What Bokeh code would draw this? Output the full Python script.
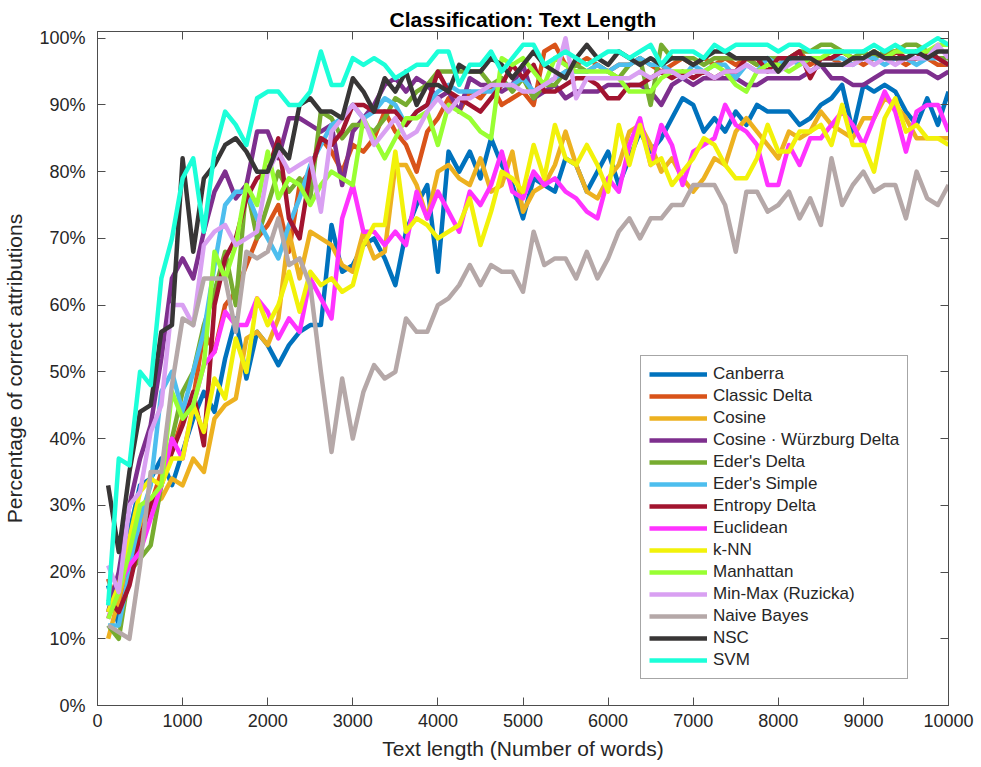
from bokeh.plotting import figure
from bokeh.models import LinearAxis, FixedTicker, Legend, LegendItem
from bokeh.embed import file_html
from bokeh.resources import INLINE

FONT = "Liberation Sans"

# text length sampled every 125 words
words = list(range(125, 10001, 125))

names = ["Canberra", "Classic Delta", "Cosine", "Cosine \u00b7 W\u00fcrzburg Delta", "Eder's Delta",
         "Eder's Simple", "Entropy Delta", "Euclidean", "k-NN", "Manhattan",
         "Min-Max (Ruzicka)", "Naive Bayes", "NSC", "SVM"]
colors = ["#0072BD", "#D95319", "#EDB120", "#7E2F8E", "#77AC30", "#4DBEEE", "#A2142F",
          "#FF33FF", "#F2F20A", "#99FF33", "#D9A0F2", "#B5A8A8", "#383636", "#1CFFD9"]

canberra = [18, 12, 26, 33, 34, 37, 33, 38, 43, 47,
            44, 52, 58, 49, 56, 54, 51, 54, 56, 57,
            57, 72, 65, 66, 69, 70, 67, 63, 71, 75,
            78, 65, 83, 80, 83, 79, 85, 81, 78, 73,
            79, 78, 77, 82, 81, 77, 80, 83, 78, 82,
            86, 83, 85, 88, 91, 90, 86, 88, 86, 89,
            87, 90, 89, 89, 89, 87, 88, 90, 91, 93,
            86, 93, 92, 93, 92, 89, 87, 91, 87, 92]
classic_delta = [19, 14, 22, 28, 30, 35, 38, 43, 46, 56,
                 53, 60, 62, 66, 70, 72, 75, 68, 78, 80,
                 85, 83, 80, 84, 83, 85, 89, 86, 84, 80,
                 86, 88, 91, 89, 92, 91, 93, 90, 91, 92,
                 90, 98, 99, 96, 96, 97, 96, 95, 96, 96,
                 97, 96, 95, 96, 97, 96, 97, 96, 97, 96,
                 97, 96, 97, 96, 97, 98, 96, 97, 97, 96,
                 97, 96, 97, 98, 97, 96, 97, 97, 96, 96]
cosine = [10, 16, 22, 27, 30, 31, 34, 33, 37, 35,
          43, 45, 46, 55, 56, 54, 58, 71, 64, 71,
          70, 69, 66, 65, 71, 67, 68, 81, 81, 78,
          73, 80, 81, 79, 78, 82, 77, 78, 83, 74,
          77, 78, 81, 86, 81, 77, 76, 79, 81, 86,
          87, 84, 80, 82, 79, 77, 79, 82, 81, 86,
          88, 86, 84, 82, 86, 85, 86, 89, 87, 86,
          85, 88, 88, 91, 90, 88, 85, 85, 85, 85]
wurzburg = [14, 20, 30, 37, 42, 52, 64, 67, 64, 71,
            77, 80, 76, 78, 86, 86, 82, 88, 88, 87,
            86, 87, 78, 86, 88, 90, 93, 94, 92, 94,
            93, 91, 92, 89, 94, 93, 93, 92, 93, 96,
            91, 92, 93, 91, 92, 92, 92, 93, 93, 93,
            93, 92, 90, 93, 94, 93, 94, 94, 94, 94,
            93, 93, 94, 94, 94, 94, 95, 96, 94, 94,
            93, 93, 94, 95, 95, 95, 95, 95, 94, 95]
eders_delta = [12, 10, 20, 22, 24, 33, 40, 47, 50, 57,
               62, 68, 60, 78, 70, 75, 80, 77, 79, 76,
               89, 88, 85, 87, 87, 86, 88, 91, 90, 92,
               93, 95, 95, 95, 95, 95, 93, 94, 92, 94,
               91, 93, 93, 95, 96, 95, 96, 95, 94, 96,
               97, 90, 99, 97, 97, 97, 96, 97, 97, 97,
               97, 96, 97, 97, 97, 98, 98, 99, 99, 98,
               97, 98, 97, 98, 98, 99, 99, 98, 97, 97]
eders_simple = [12, 12, 20, 28, 33, 47, 50, 44, 50, 56,
                66, 75, 77, 77, 73, 70, 67, 72, 76, 81,
                84, 87, 88, 90, 88, 89, 91, 90, 87, 89,
                90, 92, 93, 92, 92, 92, 92, 93, 93, 94,
                92, 93, 94, 95, 95, 95, 96, 95, 96, 96,
                97, 96, 96, 95, 94, 96, 95, 96, 96, 94,
                96, 95, 97, 96, 97, 96, 97, 97, 97, 97,
                96, 97, 97, 96, 97, 97, 96, 97, 97, 96]
entropy_delta = [16, 14, 18, 25, 30, 33, 38, 42, 47, 39,
                 60, 67, 70, 76, 79, 80, 85, 73, 70, 80,
                 85, 84, 86, 90, 90, 89, 89, 89, 87, 89,
                 90, 95, 92, 91, 90, 89, 91, 93, 96, 94,
                 96, 92, 92, 93, 94, 94, 93, 91, 91, 93,
                 93, 94, 95, 94, 95, 94, 95, 94, 95, 95,
                 97, 97, 95, 97, 97, 98, 94, 97, 97, 98,
                 97, 97, 98, 97, 98, 97, 97, 98, 97, 96]
euclidean = [13, 18, 21, 23, 28, 33, 40, 37, 45, 51,
             53, 59, 57, 57, 61, 59, 55, 58, 56, 64,
             61, 58, 73, 78, 71, 71, 69, 71, 69, 77,
             73, 77, 74, 71, 77, 75, 78, 83, 77, 76,
             80, 78, 79, 77, 76, 74, 73, 79, 77, 84,
             88, 81, 87, 84, 78, 83, 84, 85, 90, 87,
             86, 84, 78, 78, 84, 81, 85, 85, 87, 89,
             87, 84, 88, 92, 89, 83, 89, 90, 90, 86]
knn = [14, 18, 25, 32, 34, 33, 37, 37, 45, 41,
       49, 46, 55, 50, 61, 57, 60, 65, 59, 65,
       63, 64, 62, 63, 69, 72, 72, 83, 71, 73,
       72, 70, 71, 72, 76, 69, 74, 80, 79, 77,
       84, 79, 87, 82, 81, 84, 81, 77, 87, 81,
       87, 81, 82, 78, 80, 82, 85, 84, 81, 79,
       79, 82, 87, 83, 83, 86, 86, 87, 84, 90,
       84, 84, 80, 88, 91, 86, 87, 85, 85, 84]
manhattan = [13, 17, 23, 30, 31, 33, 47, 43, 45, 51,
             68, 64, 69, 78, 75, 83, 76, 79, 78, 75,
             78, 80, 79, 78, 88, 85, 82, 85, 88, 88,
             89, 84, 90, 89, 88, 86, 85, 97, 96, 97,
             95, 93, 97, 96, 95, 95, 95, 95, 94, 92,
             92, 92, 94, 95, 95, 95, 95, 96, 95, 93,
             92, 95, 96, 96, 95, 96, 97, 97, 98, 98,
             97, 97, 98, 97, 98, 98, 98, 98, 99, 99]
min_max = [21, 17, 30, 32, 41, 45, 60, 60, 57, 69,
           71, 72, 69, 70, 71, 80, 83, 80, 81, 82,
           74, 86, 88, 90, 88, 84, 86, 88, 85, 86,
           89, 91, 89, 91, 91, 92, 93, 93, 93, 92,
           92, 93, 94, 100, 91, 94, 94, 94, 94, 94,
           95, 94, 95, 95, 94, 95, 95, 94, 95, 95,
           96, 95, 95, 95, 96, 97, 95, 96, 96, 96,
           96, 97, 96, 97, 96, 97, 97, 97, 99, 97]
naive_bayes = [12, 11, 10, 21, 35, 35, 48, 58, 57, 64,
               64, 64, 56, 68, 67, 68, 73, 66, 67, 63,
               50, 38, 49, 40, 47, 51, 49, 50, 58, 56,
               56, 60, 61, 63, 66, 63, 66, 65, 65, 62,
               71, 66, 67, 67, 64, 68, 64, 67, 71, 73,
               70, 73, 73, 75, 75, 78, 78, 78, 75, 68,
               77, 77, 74, 75, 77, 73, 76, 72, 82, 75,
               78, 80, 77, 78, 78, 73, 80, 76, 75, 78]
nsc = [33, 23, 35, 44, 45, 56, 57, 82, 68, 79,
       81, 84, 85, 83, 80, 80, 84, 82, 90, 91,
       89, 89, 88, 94, 92, 89, 94, 92, 95, 90,
       93, 93, 92, 96, 95, 95, 97, 96, 94, 96,
       98, 96, 95, 94, 97, 99, 97, 96, 98, 97,
       96, 97, 96, 97, 97, 96, 97, 98, 98, 97,
       97, 97, 97, 95, 97, 97, 97, 96, 96, 96,
       97, 97, 98, 97, 97, 97, 98, 97, 98, 98]
svm = [15, 37, 36, 50, 48, 64, 70, 79, 82, 71,
       83, 89, 87, 84, 91, 92, 92, 90, 90, 92,
       98, 93, 93, 97, 96, 97, 96, 94, 95, 96,
       96, 98, 98, 93, 96, 96, 98, 95, 97, 99,
       99, 96, 97, 98, 97, 96, 97, 98, 98, 97,
       98, 99, 96, 98, 98, 98, 97, 99, 98, 99,
       99, 99, 99, 98, 99, 99, 98, 98, 98, 98,
       98, 98, 99, 98, 99, 98, 98, 99, 100, 99]

series = [canberra, classic_delta, cosine, wurzburg, eders_delta, eders_simple,
          entropy_delta, euclidean, knn, manhattan, min_max, naive_bayes, nsc, svm]

x_ticks = [0, 1000, 2000, 3000, 4000, 5000, 6000, 7000, 8000, 9000, 10000]
y_ticks = [0, 10, 20, 30, 40, 50, 60, 70, 80, 90, 100]

AX = "#4d4d4d"
TXT = "#262626"

p = figure(width=981, height=767, x_range=(0, 10000), y_range=(0, 101),
           output_backend="svg", toolbar_location=None,
           min_border_left=97, min_border_right=33, min_border_top=31, min_border_bottom=62,
           title="Classification: Text Length")
p.title.align = "center"
p.title.vertical_align = "middle"
p.title.text_font = FONT
p.title.text_font_size = "21px"
p.title.text_font_style = "bold"
p.title.text_color = "#000000"
p.title.standoff = 0
p.grid.visible = False
p.outline_line_color = AX
p.outline_line_width = 1
p.outline_line_alpha = 1
p.background_fill_color = "white"
p.border_fill_color = "white"

p.xaxis.ticker = FixedTicker(ticks=x_ticks)
p.yaxis.ticker = FixedTicker(ticks=y_ticks)
p.yaxis.major_label_overrides = {t: f"{t}%" for t in y_ticks}
p.xaxis.axis_label = "Text length (Number of words)"
p.yaxis.axis_label = "Percentage of correct attributions"
for ax in (p.xaxis[0], p.yaxis[0]):
    ax.axis_line_color = AX
    ax.major_tick_line_color = AX
    ax.major_tick_in = 8
    ax.major_tick_out = 0
    ax.minor_tick_in = 0
    ax.minor_tick_out = 0
    ax.major_label_text_font = FONT
    ax.major_label_text_font_size = "18px"
    ax.major_label_text_color = TXT
    ax.axis_label_text_font = FONT
    ax.axis_label_text_font_size = "21px"
    ax.axis_label_text_font_style = "normal"
    ax.axis_label_text_color = TXT
p.yaxis.major_label_standoff = 12
p.yaxis.axis_label_standoff = 10
p.xaxis.major_label_standoff = 8
p.xaxis.axis_label_standoff = 7

top_axis = LinearAxis(ticker=FixedTicker(ticks=x_ticks), major_label_text_font_size="0px",
                      major_label_standoff=0, major_tick_in=8, major_tick_out=0,
                      minor_tick_in=0, minor_tick_out=0, axis_line_color=AX,
                      major_tick_line_color=AX, major_label_text_alpha=0)
right_axis = LinearAxis(ticker=FixedTicker(ticks=y_ticks), major_label_text_font_size="0px",
                        major_label_standoff=0, major_tick_in=8, major_tick_out=0,
                        minor_tick_in=0, minor_tick_out=0, axis_line_color=AX,
                        major_tick_line_color=AX, major_label_text_alpha=0)
p.add_layout(top_axis, "above")
p.add_layout(right_axis, "right")

items = []
for name, col, ys in zip(names, colors, series):
    r = p.line(words, ys, line_color=col, line_width=4.5, line_join="round")
    items.append(LegendItem(label=name, renderers=[r]))

legend = Legend(items=items, location=(543, 26))
legend.label_text_font = FONT
legend.label_text_font_size = "17px"
legend.label_text_color = TXT
legend.glyph_width = 58
legend.glyph_height = 18
legend.label_height = 18
legend.spacing = 2
legend.padding = 8
legend.margin = 0
legend.label_standoff = 6
legend.border_line_color = AX
legend.border_line_width = 1
legend.background_fill_color = "white"
legend.background_fill_alpha = 1
p.add_layout(legend, "center")

open("out.html", "w").write(file_html(p, INLINE))
